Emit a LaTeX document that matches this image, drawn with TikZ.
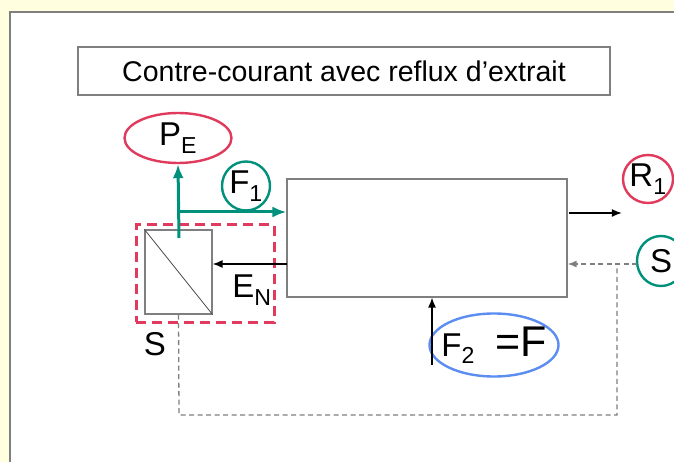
\documentclass[tikz,border=0pt]{standalone}
\usepackage{fontspec}
\setmainfont{Liberation Sans}
\usetikzlibrary{arrows.meta,positioning,calc,shapes.geometric}
\definecolor{pagebg}{HTML}{FFFFDF}
\definecolor{frame}{HTML}{7F7F7F}
\definecolor{flowred}{HTML}{E03A5C}
\definecolor{flowgreen}{HTML}{00917C}
\definecolor{flowblue}{HTML}{5B8DF2}
\tikzset{
  plainbox/.style={draw=frame, line width=1.2pt, fill=white, inner sep=0pt},
  ring/.style={ellipse, line width=2.4pt, inner sep=0pt},
  redring/.style={ring, draw=flowred},
  greenring/.style={ring, draw=flowgreen},
  bluering/.style={ring, draw=flowblue},
  lbl/.style={inner sep=0pt, font=\fontsize{33}{36}\selectfont},
  arr/.style={-{Latex[length=10pt, width=8pt]}, line width=1.3pt, color=black},
  garr/.style={-{Latex[length=14pt, width=11pt]}, line width=3pt, color=flowgreen},
  recycle/.style={dash pattern=on 5pt off 3.5pt, line width=1.3pt, color=frame},
}
\begin{document}
\begin{tikzpicture}[x=1pt, y=-1pt]
    \useasboundingbox (0,0) rectangle (674,462);
    \clip (0,0) rectangle (674,462);
    \fill[pagebg] (0,0) rectangle (674,462);
    \draw[frame, line width=1.6pt, fill=white] (10,12) rectangle (700,490);
    % title and units
    \node[plainbox, minimum width=532pt, minimum height=48pt, font=\fontsize{28.5}{32}\selectfont] (title) at (344,71) {Contre-courant avec reflux d'extrait};
    \node[plainbox, minimum width=280pt, minimum height=118pt] (col) at (427,238) {};
    \node[plainbox, minimum width=67pt, minimum height=84pt] (sep) at (178.5,272) {};
    \draw[black!70, line width=0.8pt] (sep.north west) -- (sep.south east);
    \node[draw=flowred, line width=3pt, dash pattern=on 10pt off 6pt, minimum width=138pt, minimum height=97pt] (sepzone) at (205,273.5) {};
    % stream labels
    \node[redring, minimum width=107pt, minimum height=50pt, label={[lbl]center:P\textsubscript{E}}] (PE) at (178,138) {};
    \node[greenring, minimum width=48pt, minimum height=49pt, label={[lbl]center:F\textsubscript{1}}] (F1) at (246,186) {};
    \node[redring, minimum width=50pt, minimum height=48pt, label={[lbl]center:R\textsubscript{1}}] (R1) at (648,179) {};
    \node[greenring, minimum width=48pt, minimum height=50pt, label={[lbl]center:S}] (Sin) at (661,261) {};
    \node[bluering, minimum width=129pt, minimum height=63pt, label={[lbl]center:F\textsubscript{2}\,\, {\fontsize{43}{44}\selectfont =F}}] (F2) at (494,345) {};
    \node[lbl] (EN) at (252,290) {E\textsubscript{N}};
    \node[lbl] (Sout) at (155,344) {S};
    % connectors
    \coordinate (gstart) at (179,238);
    \coordinate (gsplit) at (179,212);
    \coordinate (enl) at (287,264);
    \coordinate (rout) at (569,213);
    \coordinate (sfeed) at (637,264);
    \coordinate (f2foot) at (432,365);
    \coordinate (loopA) at (179,415);
    \coordinate (loopB) at (617,415);
    \coordinate (loopC) at (617,264);
    \draw[recycle] (sep.south) -- (loopA) -- (loopB) -- (loopC);
    \draw[recycle, -{Latex[length=9pt, width=7pt]}] (sfeed) -- (col.east |- sfeed);
    \draw[garr] (gstart) -- (PE.south);
    \draw[garr] (gsplit) -- (col.west |- gsplit);
    \draw[arr] (enl) -- (sep.east |- enl);
    \draw[arr] (rout) -- (R1.west |- rout);
    \draw[arr] (f2foot) -- (col.south -| f2foot);
  \end{tikzpicture}
\end{document}
